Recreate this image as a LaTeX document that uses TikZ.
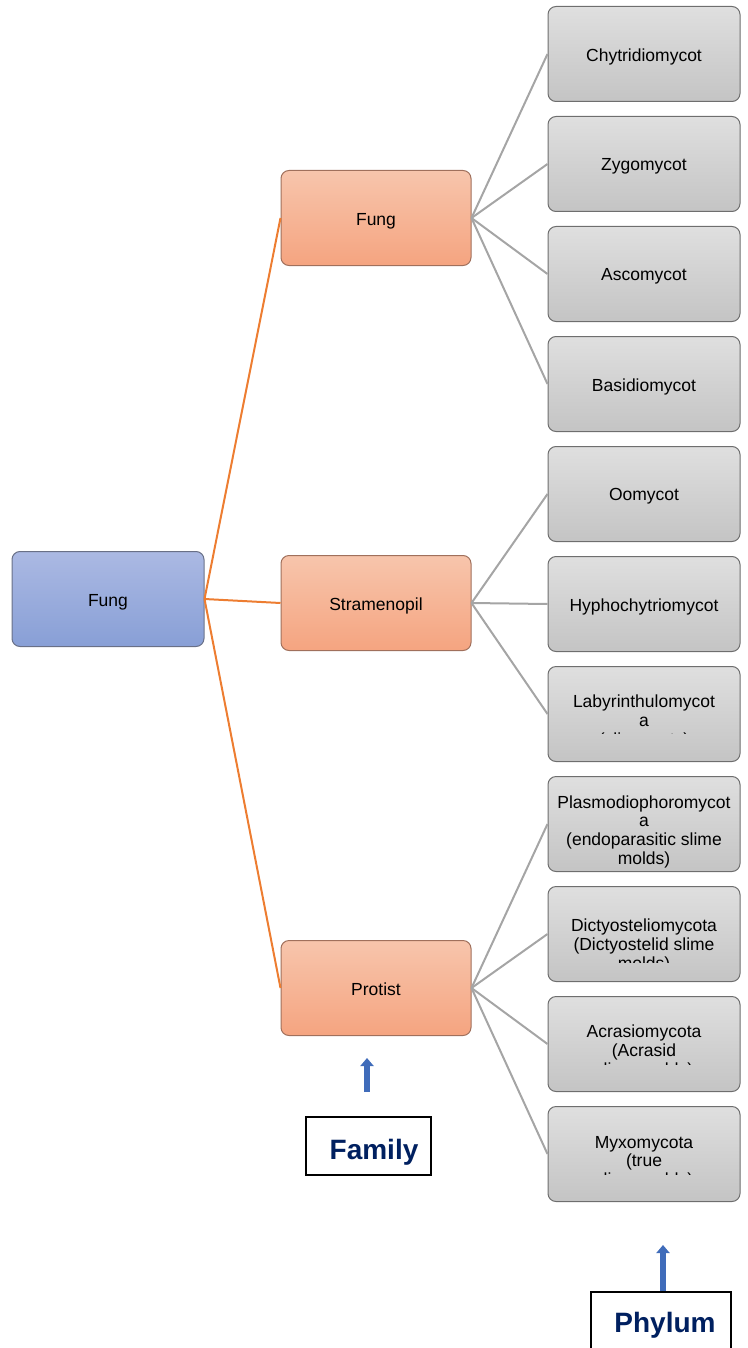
\documentclass[tikz,border=0pt]{standalone}
\usepackage{fontspec}
\setmainfont{Liberation Sans}
\usetikzlibrary{arrows.meta}
\definecolor{bluetop}{RGB}{171,185,227}
\definecolor{bluebot}{RGB}{136,159,214}
\definecolor{blueline}{RGB}{105,112,135}
\definecolor{orgtop}{RGB}{247,197,172}
\definecolor{orgbot}{RGB}{245,164,128}
\definecolor{orgline}{RGB}{160,112,92}
\definecolor{greytop}{RGB}{223,223,223}
\definecolor{greybot}{RGB}{196,196,196}
\definecolor{greyline}{RGB}{110,110,110}
\definecolor{branch}{RGB}{237,125,49}
\definecolor{twig}{RGB}{165,165,165}
\definecolor{arrowblue}{RGB}{64,108,186}
\definecolor{navy}{RGB}{0,32,96}
\begin{document}
\begin{tikzpicture}[x=1pt,y=-1pt,
  box/.style={draw, rounded corners=8pt, line width=1pt, minimum height=95pt,
    text height=15.4pt, text depth=0pt, font=\fontsize{17.5}{18.7}\selectfont},
  kingdom/.style={box, draw=blueline, top color=bluetop, bottom color=bluebot, minimum width=192pt},
  family/.style={box, draw=orgline, top color=orgtop, bottom color=orgbot, minimum width=190pt},
  leaf/.style={box, draw=greyline, top color=greytop, bottom color=greybot, minimum width=192pt},
  leaftext/.style={align=center, inner sep=0pt, font=\fontsize{17.5}{18.7}\selectfont},
  tagbox/.style={draw, line width=2pt, fill=white},
  tagtext/.style={inner sep=0pt, text=navy, font=\fontsize{28}{30}\selectfont\bfseries},
  uparrow/.style={draw=arrowblue, line width=6pt, -{Triangle[length=8pt,width=13pt]}},
  branchline/.style={draw=branch, line width=2pt},
  twigline/.style={draw=twig, line width=2pt}]

\useasboundingbox (0,0) rectangle (747,1348);

\node [kingdom] (root) at (108,599) {Fung};

\node [family] (fung) at (376,218) {Fung};
\node [family] (stram) at (376,603) {Stramenopil};
\node [family] (prot) at (376,988) {Protist};

% phylum boxes, text clipped like the original
\foreach \n/\y/\txt/\ty/\cut in {
  chy/54/{Chytridiomycot}/56.5/102,
  zyg/164/{Zygomycot}/166.5/212,
  asc/274/{Ascomycot}/276.5/322,
  bas/384/{Basidiomycot}/386.5/432,
  oom/494/{Oomycot}/496.5/542,
  hyp/604/{Hyphochytriomycot}/606.5/652,
  lab/714/{Labyrinthulomycot\\a\\(slime nets)}/721.9/733.5,
  pla/824/{Plasmodiophoromycot\\a\\(endoparasitic slime\\molds)}/831.8/872,
  dic/934/{Dictyosteliomycota\\(Dictyostelid slime\\molds)}/945.9/962.7,
  acr/1044/{Acrasiomycota\\(Acrasid\\slime molds)}/1051.9/1064,
  myx/1154/{Myxomycota\\(true\\slime molds)}/1162.5/1174.5}
{
  \node [leaf] (\n) at (644,\y) {};
  \begin{scope}
    \clip (548,\y-48) rectangle (740,\cut);
    \node [leaftext] (\n txt) at (644,\ty) {\txt};
  \end{scope}
}

\foreach \f in {fung,stram,prot}
  \draw [branchline] (root.east) -- (\f.west);

\foreach \a/\b in {fung/chy,fung/zyg,fung/asc,fung/bas,
                   stram/oom,stram/hyp,stram/lab,
                   prot/pla,prot/dic,prot/acr,prot/myx}
  \draw [twigline] (\a.east) -- (\b.west);

% rank tags
\node [tagbox, minimum width=125pt, minimum height=58pt] (famtag) at (368.5,1146) {};
\node [tagtext] (famlabel) at (374,1151.75) {Family};
\coordinate (famtail) at (367,1092);
\coordinate (famtip) at (367,1058);
\draw [uparrow] (famtail) -- (famtip);

\node [tagbox, minimum width=140pt, minimum height=68pt] (phytag) at (661,1326) {};
\node [tagtext] (phylabel) at (665,1324.75) {Phylum};
\coordinate (phytail) at (663,1291);
\coordinate (phytip) at (663,1245);
\draw [uparrow] (phytail) -- (phytip);

\end{tikzpicture}
\end{document}
